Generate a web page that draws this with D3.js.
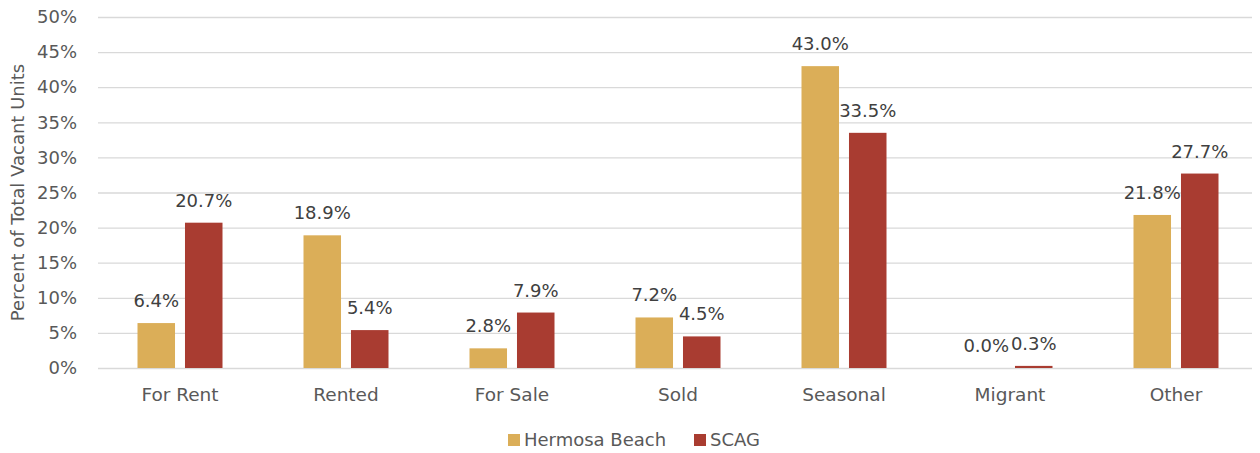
<!DOCTYPE html>
<html>
<head>
<meta charset="utf-8">
<script src="https://cdn.jsdelivr.net/npm/d3@7"></script>
<style>
	body { margin: 0; background: #fff; }
	text { font-family: 'DejaVu Sans', 'Liberation Sans', sans-serif; }
</style>
</head>
<body>
<script>
const categories = ['For Rent', 'Rented', 'For Sale', 'Sold', 'Seasonal', 'Migrant', 'Other'];
const seriesNames = ['Hermosa Beach', 'SCAG'];
const hermosa = [6.4, 18.9, 2.8, 7.2, 43.0, 0.0, 21.8];
const scag = [20.7, 5.4, 7.9, 4.5, 33.5, 0.3, 27.7];
const yTicks = [0, 5, 10, 15, 20, 25, 30, 35, 40, 45, 50];
const colors = ['#dbae58', '#a93c31'];

const margin = { top: 17, right: 8, bottom: 85, left: 98 };
const width = 1260 - margin.left - margin.right;
const height = 453 - margin.top - margin.bottom;

const svg = d3
	.select('body')
	.append('svg')
	.attr('width', 1260)
	.attr('height', 453)
	.append('g')
	.attr('transform', `translate(${margin.left},${margin.top})`);

// categories are spread a bit wider than the gridlines
const x0 = d3.scaleBand().domain(categories).range([-1, width + 7]);
const x1 = d3
	.scaleBand()
	.domain(seriesNames)
	.range([x0.bandwidth() / 2 - 42.5, x0.bandwidth() / 2 + 42.5])
	.paddingInner(0.21);
const y = d3.scaleLinear().domain([0, 50]).range([height, 0]);

// gridlines
const yAxis = d3.axisLeft(y).tickValues(yTicks).tickSize(-width).tickFormat(d => d + '%');
const gy = svg.append('g').call(yAxis);
gy.select('.domain').remove();
gy.selectAll('line').attr('stroke', '#d9d9d9').attr('stroke-width', 1.3);
gy.selectAll('text')
	.attr('x', -21)
	.attr('fill', '#595959')
	.style('font-family', "'DejaVu Sans', sans-serif")
	.style('font-size', '18px');

const data = categories.map((c, i) => ({ cat: c, vals: [hermosa[i], scag[i]] }));

const group = svg
	.selectAll('g.cat')
	.data(data)
	.enter()
	.append('g')
	.attr('class', 'cat')
	.attr('transform', d => `translate(${x0(d.cat)},0)`);

group
	.selectAll('rect')
	.data(d => d.vals.map((v, j) => ({ v, s: seriesNames[j], j })))
	.enter()
	.append('rect')
	.attr('x', d => x1(d.s))
	.attr('width', x1.bandwidth())
	.attr('y', d => y(d.v))
	.attr('height', d => height - y(d.v))
	.attr('fill', d => colors[d.j]);

group
	.selectAll('text.val')
	.data(d => d.vals.map((v, j) => ({ v, s: seriesNames[j] })))
	.enter()
	.append('text')
	.attr('class', 'val')
	.attr('x', d => x1(d.s) + x1.bandwidth() / 2)
	.attr('y', d => y(d.v) - 16)
	.attr('text-anchor', 'middle')
	.attr('fill', '#404040')
	.style('font-size', '18px')
	.text(d => d.v.toFixed(1) + '%');

// category labels
svg
	.selectAll('text.cat-label')
	.data(categories)
	.enter()
	.append('text')
	.attr('class', 'cat-label')
	.attr('x', d => x0(d) + x0.bandwidth() / 2)
	.attr('y', height + 33)
	.attr('text-anchor', 'middle')
	.attr('fill', '#595959')
	.style('font-size', '18.5px')
	.text(d => d);

// y title
svg
	.append('text')
	.attr('transform', `translate(${18 - margin.left},${height / 2}) rotate(-90)`)
	.attr('text-anchor', 'middle')
	.attr('dy', '0.35em')
	.attr('fill', '#595959')
	.style('font-size', '18px')
	.text('Percent of Total Vacant Units');

// legend
const legendX = [508 - margin.left, 694 - margin.left];
const legend = svg
	.selectAll('.legend')
	.data(seriesNames)
	.enter()
	.append('g')
	.attr('class', 'legend')
	.attr('transform', (d, i) => `translate(${legendX[i]},${434 - margin.top})`);

legend
	.append('rect')
	.attr('width', 12)
	.attr('height', 12)
	.style('fill', (d, i) => colors[i]);

legend
	.append('text')
	.attr('x', 16)
	.attr('y', 6)
	.attr('dy', '.35em')
	.attr('fill', '#595959')
	.style('font-size', '18px')
	.text(d => d);
</script>
</body>
</html>
